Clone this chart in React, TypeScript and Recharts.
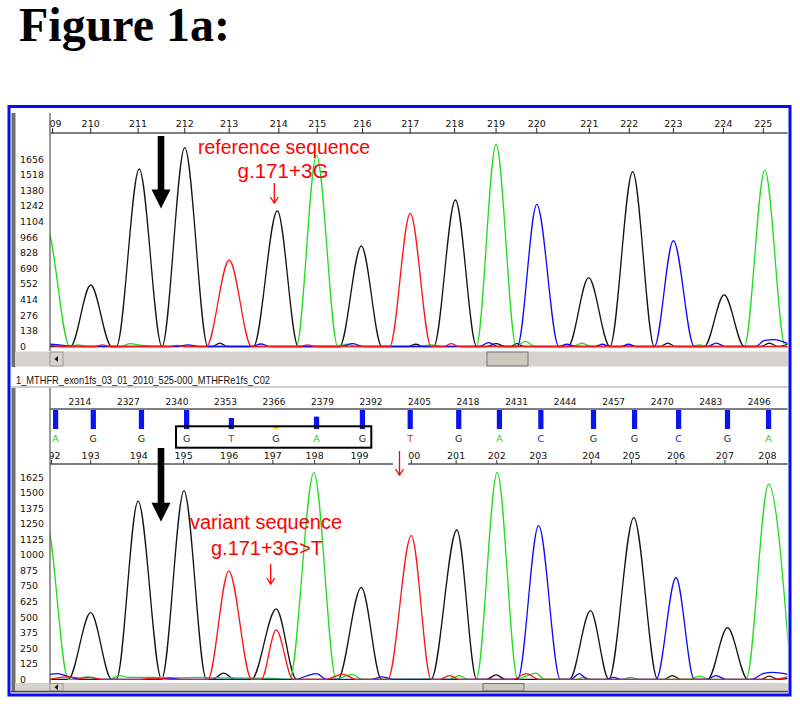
import React from 'react';
import { LineChart, Line, XAxis, YAxis, ReferenceArea } from 'recharts';

type Pt = [number, number];

// ---------- axes / labels ----------
const SCAN_MIN = 2306;
const SCAN_MAX = 2503.6;

const topRulerLabels = [209, 210, 211, 212, 213, 214, 215, 216, 217, 218, 219, 220, 221, 222, 223, 224, 225];
const topRulerScans = [2306.7, 2316.9, 2329.6, 2342.1, 2354.0, 2367.3, 2377.6, 2389.7, 2402.5, 2414.4, 2425.5, 2436.4, 2450.5, 2461.2, 2473.0, 2486.4, 2497.1];
const topYTicks = [0, 138, 276, 414, 552, 690, 828, 966, 1104, 1242, 1380, 1518, 1656];
const botYTicks = [0, 125, 250, 375, 500, 625, 750, 875, 1000, 1125, 1250, 1375, 1500, 1625];
const scanTicks = [2314, 2327, 2340, 2353, 2366, 2379, 2392, 2405, 2418, 2431, 2444, 2457, 2470, 2483, 2496];

const callNumbers = [192, 193, 194, 195, 196, 197, 198, 199, 200, 201, 202, 203, 204, 205, 206, 207, 208];
const callLetters = ['A', 'G', 'G', 'G', 'T', 'G', 'A', 'G', 'T', 'G', 'A', 'C', 'G', 'G', 'C', 'G', 'A'];
const callScans = [2307.5, 2317.6, 2330.5, 2342.6, 2354.6, 2366.5, 2377.4, 2389.7, 2402.5, 2415.5, 2426.4, 2437.5, 2451.6, 2462.6, 2474.4, 2487.5, 2498.5];
const callQuality = [1, 1, 1, 1, 0.55, 0.18, 0.62, 1, 1, 1, 1, 1, 1, 1, 1, 1, 1];
const numberScans = [2306.4, 2316.9, 2329.8, 2341.8, 2354.0, 2365.7, 2376.9, 2388.9, 2402.8, 2414.8, 2425.7, 2436.8, 2451.0, 2461.8, 2473.7, 2486.8, 2498.2];

// ---------- traces (scan, signal) ----------
const topBlack: Pt[] = [[2306, 0], [2311.5, 0], [2316.9, 544], [2322.5, 0], [2323.8, 0], [2329.9, 1570], [2336, 0], [2342.1, 1759], [2348.3, 0], [2349.5, 0], [2351.5, 30], [2353.5, 0], [2360.5, 0], [2366.9, 1199], [2372.5, 0], [2383.6, 0], [2389.4, 889], [2394.9, 0], [2402, 0], [2404, 20], [2406, 0], [2408.8, 0], [2414.6, 1296], [2420.3, 0], [2423, 0], [2425.5, 25], [2428, 0], [2429.5, 0], [2431, 25], [2433, 0], [2444.8, 0], [2450.3, 609], [2456, 0], [2462.1, 1546], [2467.9, 0], [2469.5, 0], [2471.5, 30], [2473.5, 0], [2481.3, 0], [2486.6, 456], [2492, 0], [2496.5, 0], [2498.7, 30], [2501, 0], [2503.6, 20]];
const topGreen: Pt[] = [[2298, 0], [2305, 1060], [2311.3, 0], [2313.5, 15], [2316, 0], [2325, 0], [2327.5, 25], [2330.5, 10], [2336, 0], [2372, 0], [2377.4, 1690], [2383.1, 0], [2385.5, 20], [2388, 0], [2405, 0], [2408, 15], [2411, 0], [2420.2, 0], [2425.5, 1789], [2430.9, 0], [2433.3, 45], [2436, 0], [2446, 0], [2448.5, 30], [2451, 0], [2459, 0], [2461, 15], [2463, 0], [2478, 0], [2480, 15], [2482, 0], [2492, 0], [2497.5, 1561], [2503, 0], [2505, 0]];
const topRed: Pt[] = [[2306, 10], [2309, 0], [2318, 0], [2320, 15], [2322, 0], [2338, 0], [2340, 10], [2342, 0], [2347.9, 0], [2354, 765], [2360, 0], [2373, 0], [2375, 15], [2377, 0], [2397, 0], [2402.5, 1178], [2408.1, 0], [2411.5, 0], [2413.5, 25], [2415.5, 0], [2503.6, 0]];
const topBlue: Pt[] = [[2306, 20], [2309, 12], [2312, 0], [2340, 0], [2343, 15], [2346, 0], [2360, 0], [2362.5, 22], [2365, 0], [2384, 0], [2387, 25], [2390, 0], [2421, 0], [2423.5, 35], [2426, 0], [2431.2, 0], [2436.4, 1258], [2442.3, 0], [2444.5, 20], [2447, 0], [2452, 0], [2454, 20], [2456, 0], [2459, 0], [2461, 20], [2463, 0], [2467.9, 0], [2473, 936], [2478.6, 0], [2482, 0], [2484.5, 30], [2487, 0], [2495, 0], [2497.5, 55], [2500, 60], [2503.6, 25]];

const botBlack: Pt[] = [[2306, 0], [2310.9, 0], [2316.9, 536], [2322.5, 0], [2323.8, 0], [2329.6, 1434], [2335.9, 0], [2341.9, 1515], [2347.9, 0], [2349.5, 0], [2352.5, 50], [2355.5, 0], [2360, 0], [2366.6, 566], [2372, 0], [2383.1, 0], [2389.4, 740], [2394.8, 0], [2408.1, 0], [2415, 1201], [2420.3, 0], [2423, 0], [2425.5, 35], [2428, 0], [2445.2, 0], [2450.8, 552], [2455.7, 0], [2462.4, 1300], [2468.8, 0], [2470.5, 0], [2472.7, 30], [2475, 0], [2482.2, 0], [2487.5, 415], [2492.9, 0], [2496.5, 0], [2498.7, 25], [2501, 0], [2503.6, 5]];
const botGreen: Pt[] = [[2298, 0], [2305, 1267], [2310.9, 0], [2313, 0], [2316, 20], [2319, 0], [2322, 0], [2324.7, 30], [2327, 15], [2333, 15], [2340, 12], [2345, 15], [2352, 12], [2360, 10], [2366, 8], [2370.2, 0], [2376.7, 1662], [2382.7, 0], [2384.5, 20], [2387, 40], [2389.5, 0], [2413, 0], [2415.7, 30], [2418, 0], [2420.2, 0], [2425.8, 1665], [2431.3, 0], [2433.5, 25], [2436.2, 50], [2438.5, 0], [2447, 0], [2449, 15], [2451, 0], [2459, 0], [2461.5, 15], [2464, 0], [2477, 0], [2480, 25], [2483, 0], [2492.5, 0], [2498.5, 1569], [2504.5, 0]];
const botRed: Pt[] = [[2306, 0], [2308, 12], [2311, 20], [2314, 10], [2317, 15], [2320, 0], [2330, 0], [2334, 10], [2338, 0], [2348.3, 0], [2353.9, 871], [2360, 0], [2362.6, 0], [2366.6, 397], [2371.1, 0], [2380, 0], [2384.4, 42], [2388, 0], [2396.5, 0], [2402.8, 1155], [2408.1, 0], [2410.5, 0], [2413, 30], [2415.5, 0], [2430, 0], [2433.6, 45], [2437, 0], [2500, 0], [2503.6, 20]];
const botBlue: Pt[] = [[2306, 40], [2308, 45], [2311, 20], [2314, 0], [2335, 0], [2338, 10], [2341, 0], [2372, 0], [2375, 30], [2377.5, 45], [2380, 0], [2392, 0], [2395, 20], [2398, 0], [2431.3, 0], [2436.9, 1236], [2442.7, 0], [2445.5, 0], [2447.8, 45], [2450, 0], [2455, 0], [2457, 15], [2459, 0], [2468.4, 0], [2473.7, 817], [2478.6, 0], [2482, 0], [2484.4, 30], [2487, 0], [2494, 0], [2497, 45], [2499.6, 55], [2503.6, 40]];

// ---------- styling ----------
const COL: Record<string, string> = { G: '#121212', A: '#1fdc1f', C: '#0b0bff', T: '#ff1414' };
const LETTER_COL: Record<string, string> = { G: '#222', A: '#22cc22', C: '#2222ee', T: '#ee1111' };
const RULER_FONT = 'DejaVu Sans';
const RED = '#ff0000';

const rows = (pts: Pt[]) => pts.map(([s, v]) => ({ s, v }));
const nearest = (arr: number[], v: number) => {
  let bi = 0;
  arr.forEach((a, i) => { if (Math.abs(a - v) < Math.abs(arr[bi] - v)) bi = i; });
  return bi;
};

const rulerTick = (p: any, scans: number[], labels: (string | number)[], baseY: number, id: string, size: number, colors?: string[]) => {
  const i = nearest(scans, p.payload.value);
  const cid = `clip-${id}-${i}`;
  return (
    <g>
      <clipPath id={cid}><rect x={50} y={0} width={800} height={400} /></clipPath>
      <text x={p.x} y={baseY} textAnchor="middle" fontFamily={RULER_FONT} fontSize={size}
        fill={colors ? colors[i] : '#111'} clipPath={`url(#${cid})`}>{labels[i]}</text>
    </g>
  );
};

const yTick = (p: any) => (
  <text x={20} y={p.y + 3.4} fontFamily={RULER_FONT} fontSize={9.4} fill="#111">{p.payload.value}</text>
);

const traceLines = (black: Pt[], green: Pt[], blue: Pt[], red: Pt[]) => [
  { d: black, c: COL.G, k: 'g' },
  { d: green, c: COL.A, k: 'a' },
  { d: blue, c: COL.C, k: 'c' },
  { d: red, c: COL.T, k: 't' },
].map((t) => (
  <Line key={t.k} data={rows(t.d)} dataKey="v" type="monotone" stroke={t.c} strokeWidth={1.3}
    dot={false} activeDot={false} isAnimationActive={false} />
));

function TopPanel() {
  return (
    <div style={{ position: 'absolute', left: 0, top: 100 }}>
      <LineChart width={800} height={260} margin={{ top: 13, right: 12.4, bottom: 9, left: 12 }}>
        <XAxis type="number" dataKey="s" domain={[SCAN_MIN, SCAN_MAX]} allowDataOverflow orientation="top"
          height={20} ticks={topRulerScans} interval={0} tickSize={5} tickLine={{ stroke: '#222' }}
          axisLine={{ stroke: '#7f7f7f', strokeWidth: 2 }}
          tick={(p: any) => rulerTick(p, topRulerScans, topRulerLabels, 27, 'top', 9.5)} />
        <YAxis type="number" domain={[-39.8, 1888.6]} allowDataOverflow ticks={topYTicks} interval={0}
          width={38} axisLine={false} tickLine={false} tick={yTick} />
        {traceLines(topBlack, topGreen, topBlue, topRed)}
      </LineChart>
    </div>
  );
}

function CallsStrip() {
  const callRows = callScans.map((s, i) => ({ s, q: callQuality[i] }));
  return (
    <div style={{ position: 'absolute', left: 0, top: 390 }}>
      <LineChart width={800} height={55} margin={{ top: 7, right: 12.4, bottom: 4, left: 50 }}>
        <XAxis xAxisId="scan" type="number" dataKey="s" domain={[SCAN_MIN, SCAN_MAX]} allowDataOverflow
          orientation="top" height={12} ticks={scanTicks} interval={0} tickLine={false}
          axisLine={{ stroke: '#7f7f7f', strokeWidth: 2 }}
          tick={(p: any) => rulerTick(p, scanTicks, scanTicks, 15, 'scan', 9)} />
        <XAxis xAxisId="call" type="number" dataKey="s" domain={[SCAN_MIN, SCAN_MAX]} allowDataOverflow
          orientation="bottom" height={12} ticks={callScans} interval={0} tickLine={false} axisLine={false}
          tick={(p: any) => rulerTick(p, callScans, callLetters, 52, 'call', 9.5, callLetters.map((l) => LETTER_COL[l]))} />
        <YAxis type="number" domain={[0, 1]} hide />
        {callScans.map((s, i) => (
          <ReferenceArea key={i} xAxisId="scan" x1={s - 0.7} x2={s + 0.7} y1={0} y2={callQuality[i]}
            fill={callQuality[i] < 0.3 ? '#f0e000' : '#0a14f0'} fillOpacity={1} stroke="none" ifOverflow="visible" />
        ))}
        <Line xAxisId="scan" data={callRows} dataKey="q" stroke="none" dot={false} activeDot={false} isAnimationActive={false} />
      </LineChart>
    </div>
  );
}

function BottomPanel() {
  return (
    <div style={{ position: 'absolute', left: 0, top: 440 }}>
      <LineChart width={800} height={252} margin={{ top: 4, right: 12.4, bottom: 9, left: 12 }}>
        <XAxis type="number" dataKey="s" domain={[SCAN_MIN, SCAN_MAX]} allowDataOverflow orientation="top"
          height={20} ticks={numberScans} interval={0} tickSize={4} tickLine={{ stroke: '#333' }}
          axisLine={{ stroke: '#555', strokeWidth: 1.5 }}
          tick={(p: any) => rulerTick(p, numberScans, callNumbers, 19, 'num', 9.5)} />
        <YAxis type="number" domain={[-29.8, 1732]} allowDataOverflow ticks={botYTicks} interval={0}
          width={38} axisLine={false} tickLine={false} tick={yTick} />
        {traceLines(botBlack, botGreen, botBlue, botRed)}
      </LineChart>
    </div>
  );
}

const RedArrow = ({ x, y0, y1 }: { x: number; y0: number; y1: number }) => (
  <g stroke={RED} strokeWidth={1.3} fill="none">
    <line x1={x} y1={y0} x2={x} y2={y1} />
    <polyline points={`${x - 4},${y1 - 6} ${x},${y1} ${x + 4},${y1 - 6}`} />
  </g>
);

const BlackArrow = ({ x, y0, y1 }: { x: number; y0: number; y1: number }) => (
  <g fill="#000">
    <rect x={x - 3.3} y={y0} width={6.6} height={y1 - y0 - 18} />
    <polygon points={`${x - 9.5},${y1 - 19} ${x + 9.5},${y1 - 19} ${x},${y1}`} />
  </g>
);

const Scrollbar = ({ y, h, thumbX }: { y: number; h: number; thumbX: number }) => (
  <g>
    <rect x={15} y={y} width={773} height={h} fill="#d6d3ce" />
    <rect x={50} y={y + 0.5} width={13} height={h - 1} fill="#d6d3ce" stroke="#8a8a8a" strokeWidth={0.8} />
    <polygon points={`54.5,${y + h / 2} 58,${y + h / 2 - 3} 58,${y + h / 2 + 3}`} fill="#111" />
    <rect x={thumbX} y={y + 0.5} width={41} height={h - 1} fill="#cdc9c1" stroke="#6a6a6a" strokeWidth={0.9} />
  </g>
);

function Overlay() {
  return (
    <svg width={800} height={704} style={{ position: 'absolute', left: 0, top: 0, pointerEvents: 'none' }}>
      <text x={19} y={41} fontFamily="Liberation Serif" fontWeight="bold" fontSize={47.5} fill="#000"
        textLength={211} lengthAdjust="spacingAndGlyphs">Figure 1a:</text>

      {/* left dark bars */}
      <rect x={11.5} y={113} width={4} height={254} fill="#6e6e6e" />
      <rect x={11.5} y={388} width={4} height={304} fill="#6e6e6e" />
      {/* y axis lines */}
      <line x1={50} y1={113} x2={50} y2={351} stroke="#555" strokeWidth={1.2} />
      <line x1={50} y1={388} x2={50} y2={683} stroke="#555" strokeWidth={1.2} />

      <Scrollbar y={351.5} h={15} thumbX={487} />
      <Scrollbar y={683} h={8.5} thumbX={483} />
      <rect x={11} y={690.8} width={777} height={1.6} fill="#4a4a4a" />

      <line x1={11} y1={387} x2={790} y2={387} stroke="#9a9a9a" strokeWidth={1} />
      <text x={16} y={384} fontFamily="Liberation Sans" fontSize={11} fill="#111" textLength={254} lengthAdjust="spacingAndGlyphs">1_MTHFR_exon1fs_03_01_2010_525-000_MTHFRe1fs_C02</text>

      {/* boxed bases */}
      <rect x={176} y={426.3} width={195.3} height={21.4} fill="none" stroke="#000" strokeWidth={2} />

      <BlackArrow x={161} y0={136} y1={208.5} />
      <BlackArrow x={161} y0={448} y1={521.7} />

      <g fontFamily="Liberation Sans" fontSize={20} fill={RED} textAnchor="middle">
        <text x={284} y={153.5} textLength={172} lengthAdjust="spacingAndGlyphs">reference sequence</text>
        <text x={283} y={177.5} textLength={91} lengthAdjust="spacingAndGlyphs">g.171+3G</text>
        <text x={266} y={529} textLength={152} lengthAdjust="spacingAndGlyphs">variant sequence</text>
        <text x={267} y={555} textLength={112} lengthAdjust="spacingAndGlyphs">g.171+3G&gt;T</text>
      </g>
      <RedArrow x={274.3} y0={183} y1={203} />
      <RedArrow x={270.7} y0={564} y1={584} />
      <rect x={393} y={446} width={15} height={31} fill="#fff" />
      <RedArrow x={399.5} y0={451} y1={475} />

      {/* blue frame */}
      <rect x={9} y={106.5} width={781} height={588.5} fill="none" stroke="#0a0aff" strokeWidth={3} />
    </svg>
  );
}

export default function App() {
  return (
    <div style={{ position: 'absolute', left: 0, top: 0, width: 800, height: 704, background: '#fff', overflow: 'hidden' }}>
      <TopPanel />
      <CallsStrip />
      <BottomPanel />
      <Overlay />
    </div>
  );
}
